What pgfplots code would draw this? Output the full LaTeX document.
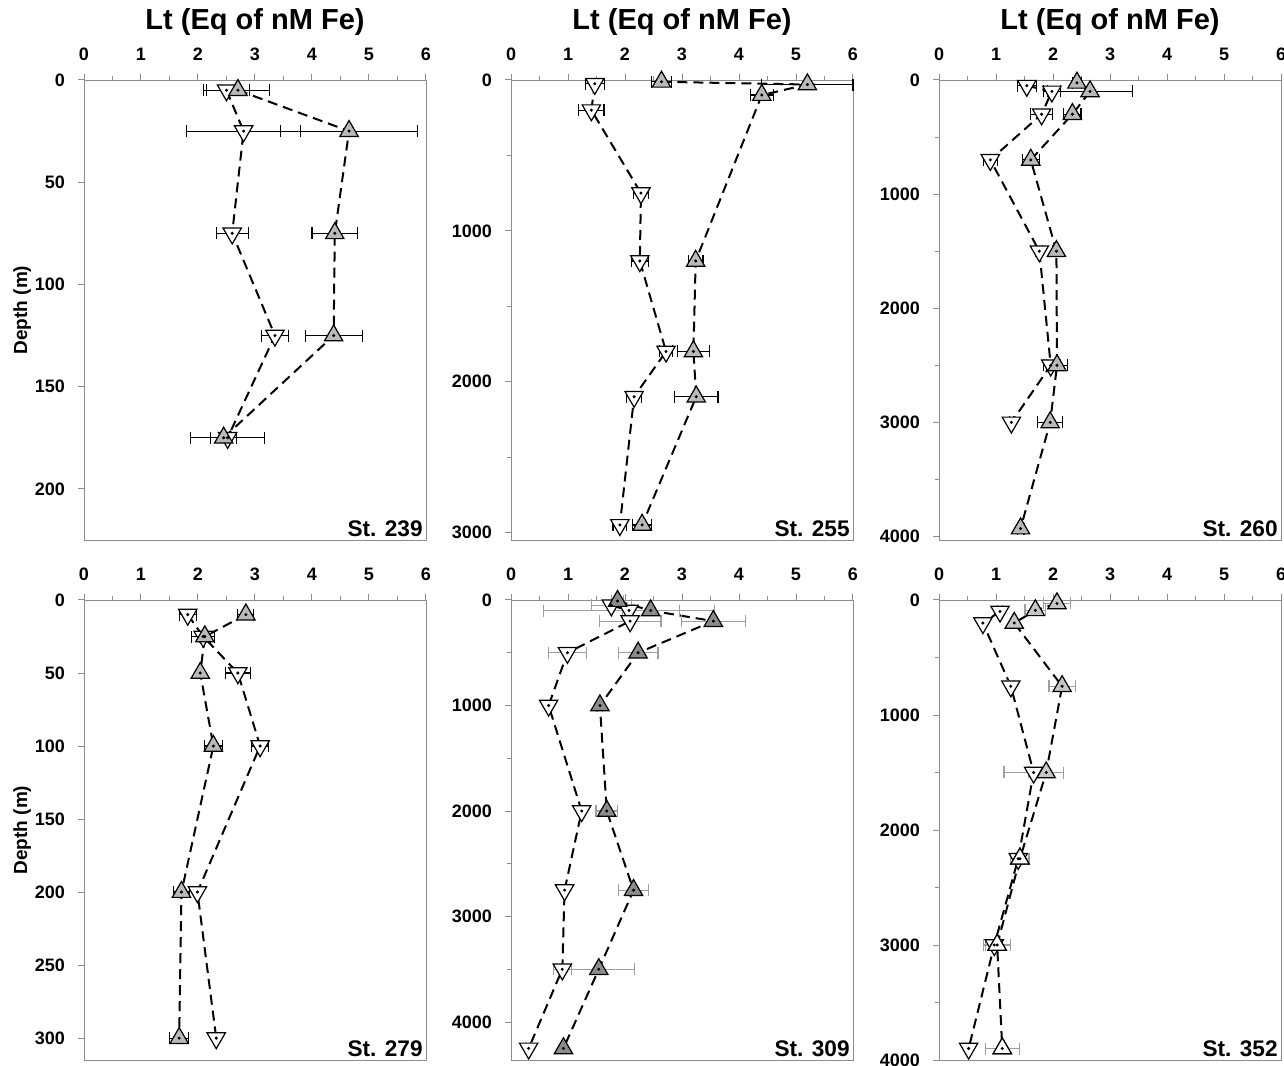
\documentclass[border=0pt]{standalone}
\usepackage{fontspec}
\setmainfont{Liberation Sans}
\usepackage{pgfplots}
\usepackage{pgfplotstable}
\pgfplotsset{compat=1.18}

% St. 239
\pgfplotstableread{
d lt e
5 2.70 0.55
25 4.65 1.20
75 4.40 0.40
125 4.38 0.50
175 2.45 0.23
}\upA
\pgfplotstableread{
d lt e
5 2.50 0.40
25 2.80 1.00
75 2.60 0.28
125 3.35 0.24
175 2.52 0.65
}\dnA
% St. 255
\pgfplotstableread{
d lt e
12 2.64 0.18
30 5.20 0.80
100 4.40 0.20
1200 3.24 0.13
1800 3.20 0.28
2100 3.25 0.38
2950 2.30 0.17
}\upB
\pgfplotstableread{
d lt e
25 1.47 0.17
200 1.41 0.22
750 2.28 0.13
1200 2.26 0.15
1800 2.72 0.11
2100 2.16 0.13
2950 1.91 0.12
}\dnB
% St. 260
\pgfplotstableread{
d lt e
25 2.42 0.08
100 2.65 0.75
300 2.34 0.15
700 1.61 0.15
1500 2.06 0.06
2500 2.07 0.18
3000 1.95 0.22
3930 1.43 0.06
}\upC
\pgfplotstableread{
d lt e
50 1.54 0.17
100 1.98 0.15
300 1.80 0.19
700 0.90 0.12
1500 1.76 0.06
2500 1.96 0.12
3000 1.27 0.04
}\dnC
% St. 279
\pgfplotstableread{
d lt e
10 2.84 0.14
25 2.12 0.10
50 2.04 0.05
100 2.27 0.16
200 1.71 0.14
300 1.67 0.17
}\upD
\pgfplotstableread{
d lt e
10 1.82 0.15
25 2.09 0.20
50 2.70 0.22
100 3.09 0.15
200 1.99 0.05
300 2.32 0.05
}\dnD
% St. 309
\pgfplotstableread{
d lt e
10 1.87 0.10
100 2.45 0.50
200 3.55 0.56
500 2.23 0.35
1000 1.56 0.05
2000 1.68 0.19
2750 2.15 0.26
3500 1.54 0.63
4250 0.92 0.05
}\upE
\pgfplotstableread{
d lt e
50 1.76 0.35
100 2.07 1.50
200 2.09 0.54
500 0.99 0.33
1000 0.66 0.05
2000 1.24 0.05
2750 0.94 0.05
3500 0.90 0.16
4250 0.31 0.05
}\dnE
% St. 352
\pgfplotstableread{
d lt e
30 2.07 0.23
90 1.69 0.18
200 1.32 0.05
750 2.16 0.23
1500 1.88 0.30
2250 1.42 0.16
3000 1.02 0.24
3900 1.11 0.30
}\upF
\pgfplotstableread{
d lt e
100 1.07 0.05
200 0.77 0.05
750 1.26 0.05
1500 1.66 0.52
2250 1.39 0.05
3000 0.97 0.15
3900 0.52 0.05
}\dnF

\pgfplotsset{
  panel/.style={
    scale only axis, width=171pt, height=230pt,
    xmin=0, xmax=6, xtick={0,...,6}, minor x tick num=1,
    ymin=0, y dir=reverse,
    xtick pos=right, xticklabel pos=right,
    ytick pos=left, yticklabel pos=left,
    tick align=outside,
    axis line style={gray!90},
    tick style={gray!90, line width=0.5pt},
    major tick length=3pt, minor tick length=2pt,
    ticklabel style={font=\fontsize{9}{10}\selectfont\bfseries},
    xticklabel shift=3pt, yticklabel shift=3pt,
    /pgf/number format/assume math mode=true,
    /pgf/number format/1000 sep={},
    scaled ticks=false,
    title style={font=\fontsize{14.5}{16}\selectfont\bfseries,
      at={(0.5,1)}, anchor=center, yshift=23pt},
    ylabel style={font=\fontsize{9.5}{11}\selectfont\bfseries, yshift=-5pt},
    clip=false,
  },
  prof/.style n args={3}{black, line width=1pt, dash pattern=on 5pt off 3pt,
    mark=triangle*, mark size=5.3pt,
    mark options={solid, fill=#1, draw=black, line width=0.6pt, rotate=#3},
    error bars/x dir=both, error bars/x explicit, error bars/error mark=|,
    error bars/error bar style={solid, line width=0.6pt, #2},
    error bars/error mark options={solid, line width=0.6pt, mark size=3pt, #2}},
  up/.style 2 args={prof={#1}{#2}{0}},
  dn/.style 2 args={prof={#1}{#2}{180}},
  dot/.style={only marks, mark=*, mark size=0.55pt, black, forget plot},
}
\tikzset{stn/.style={anchor=south east, inner sep=1.5pt,
    font=\fontsize{11.3}{13}\selectfont\bfseries}}

\begin{document}
\begin{tikzpicture}
\useasboundingbox (0,0) rectangle (642pt,532.5pt);

% ---- top row ----
\begin{axis}[panel, at={(42pt,492.5pt)}, anchor=north west,
  ymax=225, ytick={0,50,...,200}, title={Lt (Eq of nM Fe)}, ylabel={Depth (m)}]
\addplot[dn={white}{black}] table[x=lt, y=d, x error=e]{\dnA};
\addplot[up={gray!55}{black}] table[x=lt, y=d, x error=e]{\upA};
\addplot[dot] table[x=lt, y=d]{\dnA};
\addplot[dot] table[x=lt, y=d]{\upA};
\node[stn] at (axis description cs:1,0) {St. 239};
\end{axis}

\begin{axis}[panel, at={(255.5pt,492.5pt)}, anchor=north west,
  ymax=3050, ytick={0,1000,2000,3000}, minor y tick num=1, title={Lt (Eq of nM Fe)}]
\addplot[dn={white}{black}] table[x=lt, y=d, x error=e]{\dnB};
\addplot[up={gray!55}{black}] table[x=lt, y=d, x error=e]{\upB};
\addplot[dot] table[x=lt, y=d]{\dnB};
\addplot[dot] table[x=lt, y=d]{\upB};
\node[stn] at (axis description cs:1,0) {St. 255};
\end{axis}

\begin{axis}[panel, at={(469.5pt,492.5pt)}, anchor=north west,
  ymax=4030, ytick={0,1000,...,4000}, minor y tick num=1, title={Lt (Eq of nM Fe)}]
\addplot[dn={white}{black}] table[x=lt, y=d, x error=e]{\dnC};
\addplot[up={gray!55}{black}] table[x=lt, y=d, x error=e]{\upC};
\addplot[dot] table[x=lt, y=d]{\dnC};
\addplot[dot] table[x=lt, y=d]{\upC};
\node[stn] at (axis description cs:1,0) {St. 260};
\end{axis}

% ---- bottom row ----
\begin{axis}[panel, at={(42pt,232.5pt)}, anchor=north west,
  ymax=315, ytick={0,50,...,300}, ylabel={Depth (m)}]
\addplot[dn={white}{black}] table[x=lt, y=d, x error=e]{\dnD};
\addplot[up={gray!55}{black}] table[x=lt, y=d, x error=e]{\upD};
\addplot[dot] table[x=lt, y=d]{\dnD};
\addplot[dot] table[x=lt, y=d]{\upD};
\node[stn] at (axis description cs:1,0) {St. 279};
\end{axis}

\begin{axis}[panel, at={(255.5pt,232.5pt)}, anchor=north west,
  ymax=4360, ytick={0,1000,...,4000}, minor y tick num=1]
\addplot[dn={white}{gray!75}] table[x=lt, y=d, x error=e]{\dnE};
\addplot[up={black!45}{gray!75}] table[x=lt, y=d, x error=e]{\upE};
\addplot[dot] table[x=lt, y=d]{\dnE};
\addplot[dot] table[x=lt, y=d]{\upE};
\node[stn] at (axis description cs:1,0) {St. 309};
\end{axis}

\begin{axis}[panel, at={(469.5pt,232.5pt)}, anchor=north west,
  ymax=4000, ytick={0,1000,...,4000}, minor y tick num=1]
\addplot[dn={white}{gray!75}] table[x=lt, y=d, x error=e]{\dnF};
\addplot[up={gray!45}{gray!75}] table[x=lt, y=d, x error=e]{\upF};
\addplot[only marks, mark=triangle*, mark size=5.3pt,
  mark options={fill=white, draw=black, line width=0.6pt}, forget plot]
  coordinates {(1.42,2250) (1.02,3000) (1.11,3900)};
\addplot[dot] table[x=lt, y=d]{\dnF};
\addplot[dot] table[x=lt, y=d]{\upF};
\node[stn] at (axis description cs:1,0) {St. 352};
\end{axis}
\end{tikzpicture}
\end{document}
